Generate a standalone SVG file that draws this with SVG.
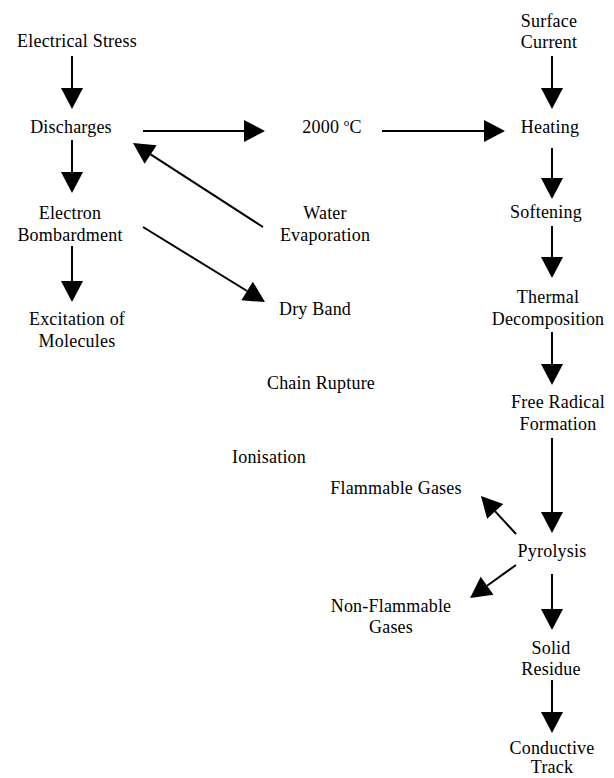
<svg xmlns="http://www.w3.org/2000/svg" width="614" height="778" viewBox="0 0 614 778">
<style>
text{font-family:'Liberation Serif','Times New Roman','DejaVu Serif',serif;font-size:18px;fill:#000;text-anchor:middle;letter-spacing:0.2px}
.c line{stroke:#000;stroke-width:2;marker-end:url(#ah)}
</style>
<defs>
<marker id="ah" markerUnits="userSpaceOnUse" markerWidth="22" markerHeight="24" viewBox="0 -12 22 24" refX="0" refY="0" orient="auto" overflow="visible">
<path d="M0,-11 L21,0 L0,11 z" fill="#000"/>
</marker>
</defs>
<rect width="614" height="778" fill="#fff"/>
<g font-family="Liberation Serif, serif">
<g id="n-electrical-stress"><text x="77" y="47">Electrical Stress</text></g>
<g id="n-discharges"><text x="71" y="133">Discharges</text></g>
<g id="n-2000c"><text x="332" y="133">2000 <tspan font-size="11" dy="-7">o</tspan><tspan dy="7">C</tspan></text></g>
<g id="n-surface-current"><text x="549" y="27">Surface</text><text x="549" y="48">Current</text></g>
<g id="n-heating"><text x="550" y="133">Heating</text></g>
<g id="n-electron-bombardment"><text x="70" y="219">Electron</text><text x="70" y="241">Bombardment</text></g>
<g id="n-water-evaporation"><text x="325" y="219">Water</text><text x="325" y="241">Evaporation</text></g>
<g id="n-softening"><text x="546" y="218">Softening</text></g>
<g id="n-excitation"><text x="77" y="325">Excitation of</text><text x="77" y="347">Molecules</text></g>
<g id="n-dry-band"><text x="315" y="315">Dry Band</text></g>
<g id="n-thermal-decomposition"><text x="548" y="303">Thermal</text><text x="548" y="325">Decomposition</text></g>
<g id="n-chain-rupture"><text x="321" y="389">Chain Rupture</text></g>
<g id="n-free-radical"><text x="558" y="408">Free Radical</text><text x="558" y="430">Formation</text></g>
<g id="n-ionisation"><text x="269" y="463">Ionisation</text></g>
<g id="n-flammable"><text x="396" y="494">Flammable Gases</text></g>
<g id="n-pyrolysis"><text x="552" y="557">Pyrolysis</text></g>
<g id="n-non-flammable"><text x="391" y="612">Non-Flammable</text><text x="391" y="633">Gases</text></g>
<g id="n-solid-residue"><text x="551" y="654">Solid</text><text x="551" y="675">Residue</text></g>
<g id="n-conductive-track"><text x="552" y="754">Conductive</text><text x="552" y="773">Track</text></g>
</g>
<g id="connectors" class="c">
<line x1="72" y1="56" x2="72" y2="88"/>
<line x1="72" y1="140" x2="72" y2="172"/>
<line x1="72" y1="246" x2="72" y2="281"/>
<line x1="143" y1="131" x2="244" y2="131"/>
<line x1="382" y1="131" x2="484" y2="131"/>
<line x1="263" y1="227" x2="150.6" y2="154.4"/>
<line x1="143" y1="227" x2="247.1" y2="291"/>
<line x1="552" y1="56" x2="552" y2="88"/>
<line x1="552" y1="148" x2="552" y2="178"/>
<line x1="552" y1="226" x2="552" y2="257"/>
<line x1="552" y1="332" x2="552" y2="364"/>
<line x1="552" y1="438" x2="552" y2="512"/>
<line x1="516" y1="534" x2="495.2" y2="511.4"/>
<line x1="516" y1="565" x2="487.1" y2="585.8"/>
<line x1="552" y1="574" x2="552" y2="609"/>
<line x1="552" y1="680" x2="552" y2="712"/>
</g>
</svg>
